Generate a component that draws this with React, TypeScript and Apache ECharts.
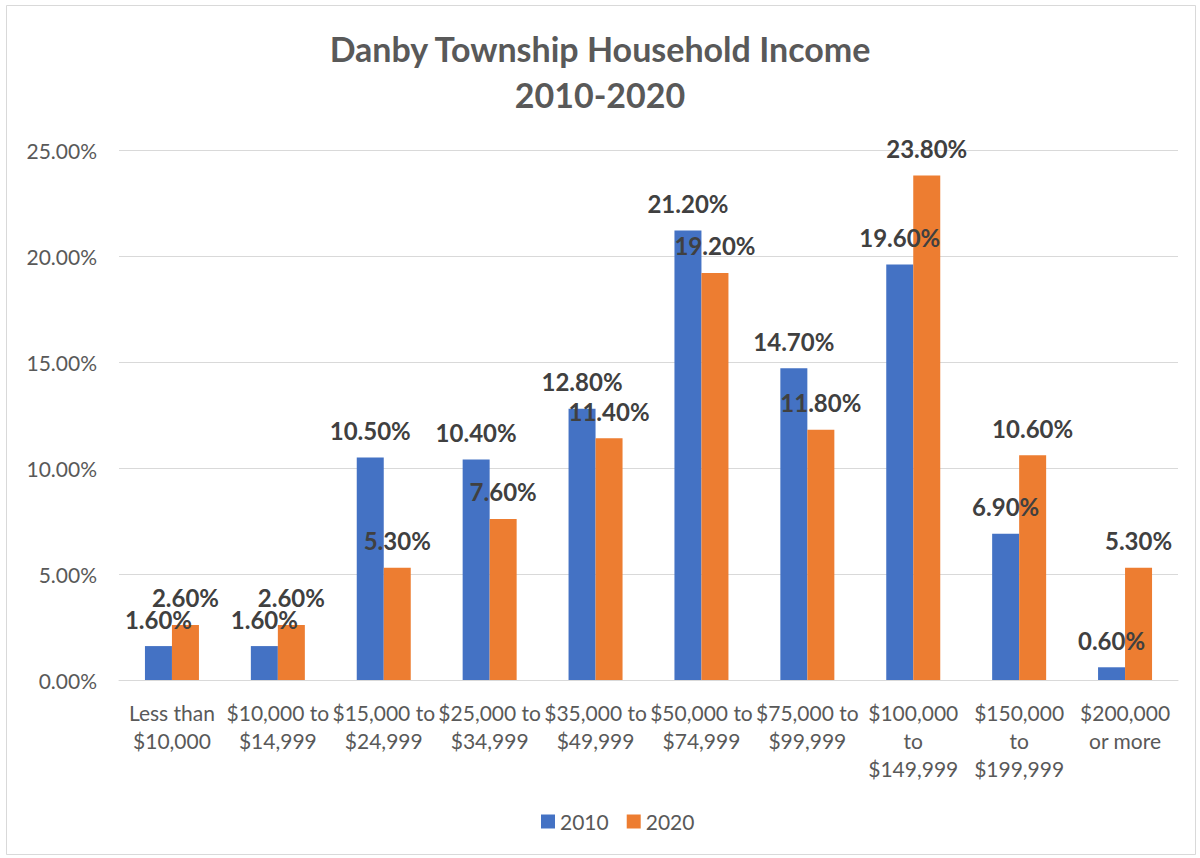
import React, { useEffect, useRef } from "react";
import * as echarts from "echarts";

const categories = [
  "Less than\n$10,000",
  "$10,000 to\n$14,999",
  "$15,000 to\n$24,999",
  "$25,000 to\n$34,999",
  "$35,000 to\n$49,999",
  "$50,000 to\n$74,999",
  "$75,000 to\n$99,999",
  "$100,000\nto\n$149,999",
  "$150,000\nto\n$199,999",
  "$200,000\nor more",
];
const values2010 = [1.6, 1.6, 10.5, 10.4, 12.8, 21.2, 14.7, 19.6, 6.9, 0.6];
const values2020 = [2.6, 2.6, 5.3, 7.6, 11.4, 19.2, 11.8, 23.8, 10.6, 5.3];
const seriesNames = ["2010", "2020"];
const titleLines = ["Danby Township Household Income", "2010-2020"];

const FONT = "Lato, 'Open Sans', sans-serif";

export default function App() {
  const ref = useRef<HTMLDivElement>(null);
  useEffect(() => {
    if (!ref.current) return;
    const chart = echarts.init(ref.current, null, { renderer: "svg" });
    const labelCfg = {
      show: true,
      position: "top",
      distance: 15,
      fontFamily: FONT,
      fontSize: 24,
      fontWeight: "bold",
      color: "#404040",
      formatter: (p: any) => p.value.toFixed(2) + "%",
    };
    chart.setOption({
      animation: false,
      backgroundColor: "#ffffff",
      textStyle: { fontFamily: FONT },
      title: {
        text: titleLines.join("\n"),
        left: "center",
        top: 20,
        textStyle: {
          fontFamily: FONT,
          fontSize: 34,
          fontWeight: "bold",
          color: "#595959",
          lineHeight: 46,
        },
      },
      legend: {
        data: seriesNames,
        bottom: 21,
        left: 536,
        itemWidth: 14,
        itemHeight: 14,
        itemGap: 18,
        icon: "rect",
        textStyle: { fontFamily: FONT, fontSize: 21, color: "#595959" },
      },
      grid: { left: 119, right: 22, top: 150, bottom: 178, containLabel: false },
      xAxis: {
        type: "category",
        data: categories,
        axisLine: { show: true, lineStyle: { color: "#D9D9D9", width: 1 } },
        axisTick: { show: false },
        axisLabel: {
          interval: 0,
          fontFamily: FONT,
          fontSize: 21,
          color: "#595959",
          lineHeight: 28,
          margin: 18,
        },
      },
      yAxis: {
        type: "value",
        min: 0,
        max: 25,
        interval: 5,
        axisLine: { show: false },
        axisTick: { show: false },
        splitLine: { lineStyle: { color: "#D9D9D9", width: 1 } },
        axisLabel: {
          fontFamily: FONT,
          fontSize: 21,
          color: "#595959",
          margin: 22,
          formatter: (v: number) => v.toFixed(2) + "%",
        },
      },
      series: [
        {
          name: seriesNames[0],
          type: "bar",
          data: values2010,
          barWidth: 27,
          barGap: "0%",
          itemStyle: { color: "#4472C4" },
          label: labelCfg,
        },
        {
          name: seriesNames[1],
          type: "bar",
          data: values2020,
          barWidth: 27,
          barGap: "0%",
          itemStyle: { color: "#ED7D31" },
          label: labelCfg,
        },
      ],
      graphic: [
        {
          type: "rect",
          shape: { x: 6.5, y: 5.5, width: 1189, height: 849 },
          style: { fill: "none", stroke: "#D9D9D9", lineWidth: 1 },
          silent: true,
        },
      ],
    });
    return () => chart.dispose();
  }, []);
  return (
    <div
      ref={ref}
      style={{ position: "fixed", left: 0, top: 0, width: 1200, height: 858 }}
    />
  );
}
